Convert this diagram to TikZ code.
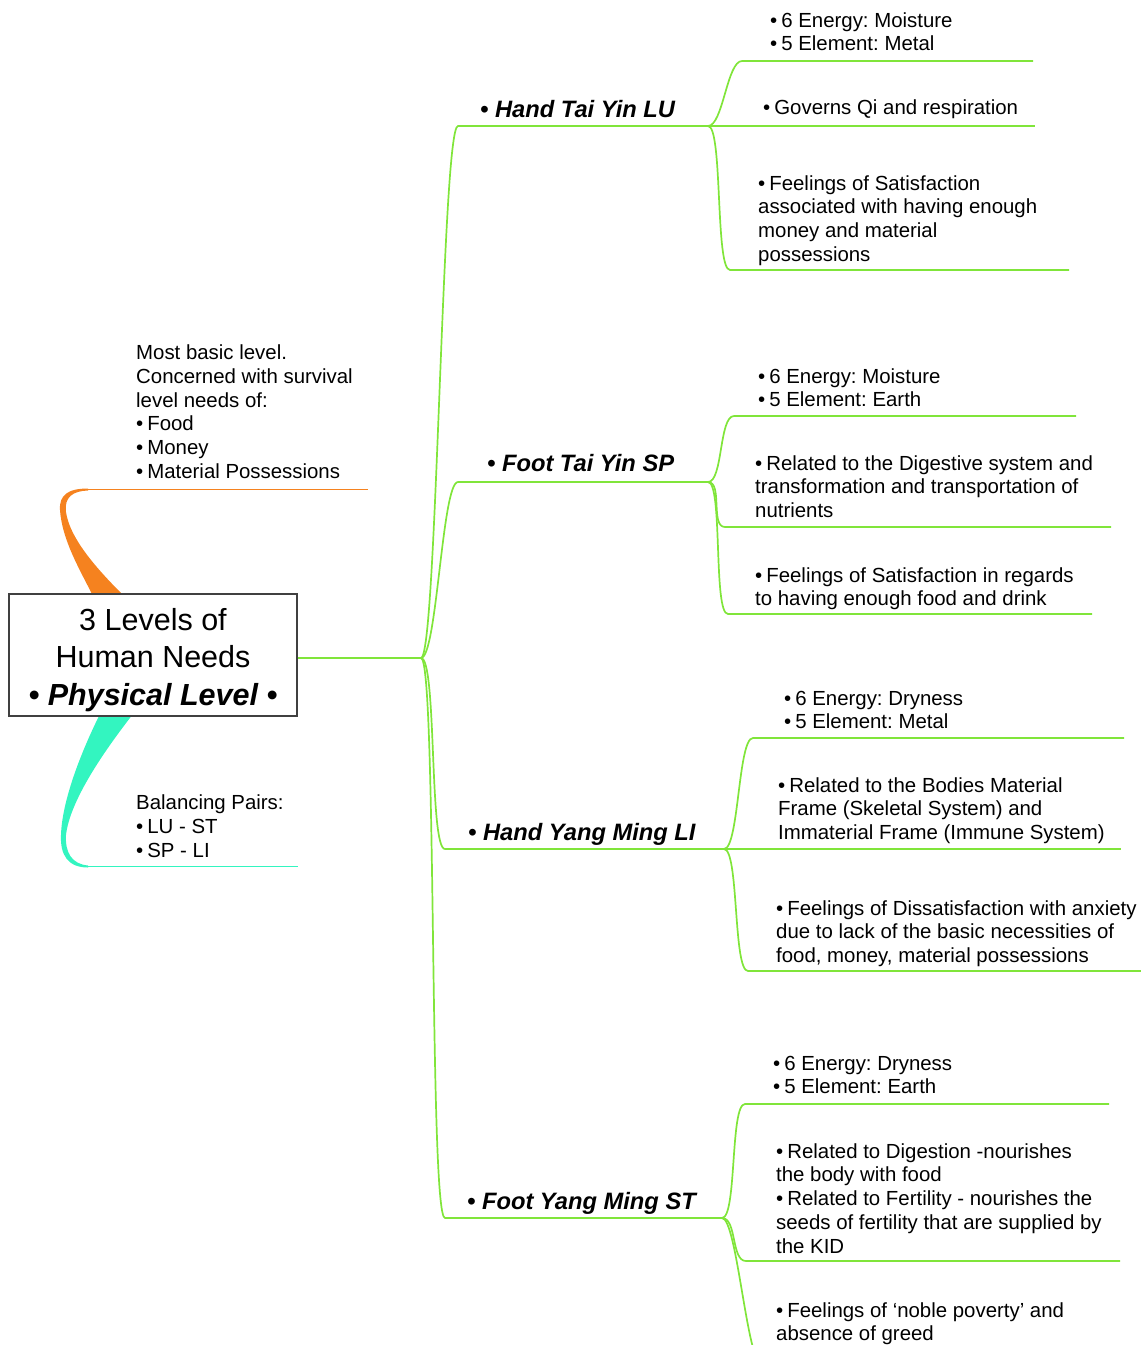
\documentclass[tikz,border=0pt]{standalone}
\usepackage{fontspec}
\setmainfont{Liberation Sans}
\frenchspacing
\definecolor{mmgreen}{HTML}{80E53A}
\definecolor{mmorange}{HTML}{F5821F}
\definecolor{mmcyan}{HTML}{33F5C0}
\newcommand{\bul}{\textbullet\kern4pt}

\begin{document}
\begin{tikzpicture}[x=1pt,y=-1pt,
  branch/.style={draw=mmgreen,line width=1.7pt},
  mmcurve/.style={to path={.. controls +(#1,0) and +(-#1,0) .. (\tikztotarget)}},
  mmcurve/.default=15,
  root node/.style={draw=black!75,line width=1.2pt,fill=white,minimum width=288pt,minimum height=122pt,align=center,font=\fontsize{30.5}{37.5}\selectfont},
  main node/.style={anchor=base west,inner sep=0pt,font=\fontsize{23.7}{28}\selectfont\bfseries\itshape},
  leaf node/.style={anchor=base west,inner sep=0pt,align=left,font=\fontsize{20.4}{23.8}\selectfont}]
  \useasboundingbox (0,0) rectangle (1141,1345);
  \clip (0,0) rectangle (1141,1345);

  % side branches
  \fill[mmorange] (93,596) .. controls (80,570) and (62,540) .. (60,510) .. controls (59,495) and (68,488.5) .. (88,488.5)
    -- (88,490.5) .. controls (73,491) and (64,497) .. (66,512) .. controls (70,540) and (100,572) .. (124,596) -- cycle;
  \draw[mmorange,line width=1.8pt] (85,489.5) -- (368,489.5);
  \fill[mmcyan] (100,714) .. controls (82,750) and (62,800) .. (61,835) .. controls (60,855) and (68,867.5) .. (88,867.5)
    -- (88,865.5) .. controls (72,864) and (65,853) .. (66,835) .. controls (70,800) and (105,750) .. (133,714) -- cycle;
  \draw[mmcyan,line width=1.8pt] (86,866.5) -- (298,866.5);

  \node[root node] (root) at (153,655) {\rule{0pt}{32pt}3 Levels of\\Human Needs\\{\bfseries\itshape \textbullet{} Physical Level \textbullet}};
  \node[leaf node] (basic) at (136,478.5) {Most basic level.\\Concerned with survival\\level needs of:\\\bul Food\\\bul Money\\\bul Material Possessions};
  \node[leaf node] (pairs) at (136,857.1) {Balancing Pairs:\\\bul LU - ST\\\bul SP - LI};

  % channels
  \node[main node] (lu) at (480,117) {\textbullet{} Hand Tai Yin LU};
  \node[main node] (sp) at (487,471) {\textbullet{} Foot Tai Yin SP};
  \node[main node] (li) at (468,840) {\textbullet{} Hand Yang Ming LI};
  \node[main node] (st) at (467,1209) {\textbullet{} Foot Yang Ming ST};

  % notes (placed at the baseline of their last line)
  \node[leaf node] (lu1) at (770,50.8) {\bul 6 Energy: Moisture\\\bul 5 Element: Metal};
  \node[leaf node] (lu2) at (763,114) {\bul Governs Qi and respiration};
  \node[leaf node] (lu3) at (758,261.4) {\bul Feelings of Satisfaction\\associated with having enough\\money and material\\possessions};
  \node[leaf node] (sp1) at (758,406.8) {\bul 6 Energy: Moisture\\\bul 5 Element: Earth};
  \node[leaf node] (sp2) at (755,517.6) {\bul Related to the Digestive system and\\transformation and transportation of\\nutrients};
  \node[leaf node] (sp3) at (755,605.8) {\bul Feelings of Satisfaction in regards\\to having enough food and drink};
  \node[leaf node] (li1) at (784,728.8) {\bul 6 Energy: Dryness\\\bul 5 Element: Metal};
  \node[leaf node] (li2) at (778,839.6) {\bul Related to the Bodies Material\\Frame (Skeletal System) and\\Immaterial Frame (Immune System)};
  \node[leaf node] (li3) at (776,962.6) {\bul Feelings of Dissatisfaction with anxiety\\due to lack of the basic necessities of\\food, money, material possessions};
  \node[leaf node] (st1) at (773,1093.8) {\bul 6 Energy: Dryness\\\bul 5 Element: Earth};
  \node[leaf node] (st2) at (776,1253.2) {\bul Related to Digestion -nourishes\\the body with food\\\bul Related to Fertility - nourishes the\\seeds of fertility that are supplied by\\the KID};
  \node[leaf node] (st3) at (776,1340.8) {\bul Feelings of `noble poverty' and\\absence of greed};

  % underline ends
  \coordinate (hub) at (421,658);
  \coordinate (luA) at (458,126);  \coordinate (luB) at (708,126);
  \coordinate (spA) at (458,482);  \coordinate (spB) at (708,482);
  \coordinate (liA) at (445,849);  \coordinate (liB) at (724,849);
  \coordinate (stA) at (445,1218); \coordinate (stB) at (722,1218);
  \coordinate (lu1A) at (742,61);   \coordinate (lu1B) at (1033,61);
  \coordinate (lu2B) at (1035,126);
  \coordinate (lu3A) at (730,270);  \coordinate (lu3B) at (1069,270);
  \coordinate (sp1A) at (734,416);  \coordinate (sp1B) at (1076,416);
  \coordinate (sp2A) at (725,527);  \coordinate (sp2B) at (1111,527);
  \coordinate (sp3A) at (728,614);  \coordinate (sp3B) at (1092,614);
  \coordinate (li1A) at (753,738);  \coordinate (li1B) at (1124,738);
  \coordinate (li2B) at (1121,849);
  \coordinate (li3A) at (748,971);  \coordinate (li3B) at (1141,971);
  \coordinate (st1A) at (745,1104); \coordinate (st1B) at (1109,1104);
  \coordinate (st2A) at (746,1261); \coordinate (st2B) at (1120,1261);
  \coordinate (st3A) at (762,1365); \coordinate (st3B) at (1120,1365);

  \draw[branch] (root.east |- hub) -- (hub);
  \draw[branch] (hub) to[mmcurve=16] (luA) -- (luB);
  \draw[branch] (hub) to[mmcurve=16] (spA) -- (spB);
  \draw[branch] (hub) to[mmcurve=16] (liA) -- (liB);
  \draw[branch] (hub) to[mmcurve=16] (stA) -- (stB);

  \draw[branch] (luB) to[mmcurve] (lu1A) -- (lu1B);
  \draw[branch] (luB) -- (lu2B);
  \draw[branch] (luB) to[mmcurve] (lu3A) -- (lu3B);
  \draw[branch] (spB) to[mmcurve] (sp1A) -- (sp1B);
  \draw[branch] (spB) to[mmcurve] (sp2A) -- (sp2B);
  \draw[branch] (spB) to[mmcurve] (sp3A) -- (sp3B);
  \draw[branch] (liB) to[mmcurve] (li1A) -- (li1B);
  \draw[branch] (liB) -- (li2B);
  \draw[branch] (liB) to[mmcurve] (li3A) -- (li3B);
  \draw[branch] (stB) to[mmcurve] (st1A) -- (st1B);
  \draw[branch] (stB) to[mmcurve] (st2A) -- (st2B);
  \draw[branch] (stB) to[mmcurve] (st3A) -- (st3B);
\end{tikzpicture}
\end{document}
